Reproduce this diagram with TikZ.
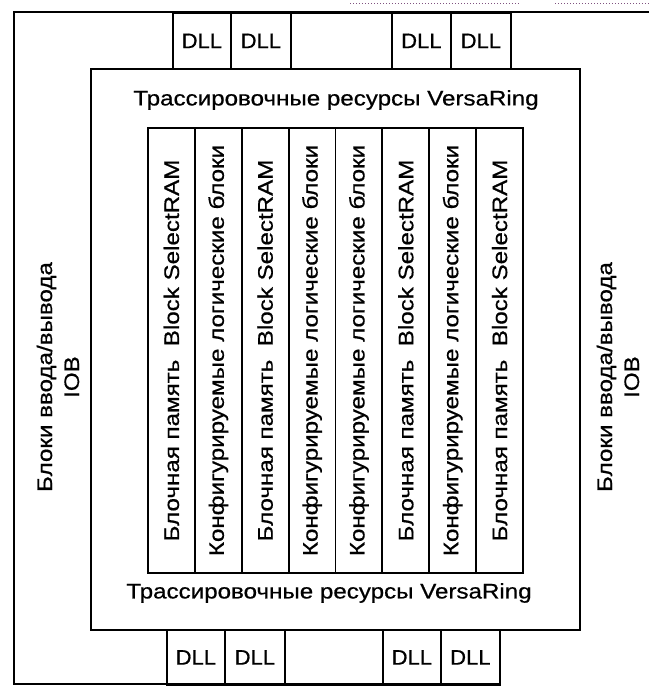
\documentclass[tikz,border=0pt]{standalone}
\usepackage{fontspec}
\setmainfont{Liberation Sans}
\newfontfamily\scanfont{Liberation Sans}[FakeBold=0.6]
\newcommand{\stx}[1]{\scalebox{1.15}[1]{#1}}
\newcommand{\bram}{\stx{Блочная память\ \ Block SelectRAM}}
\newcommand{\clb}{\stx{Конфигурируемые логические блоки}}
\begin{document}
\begin{tikzpicture}[x=1pt,y=-1pt,
  ln/.style={line width=1.8pt},
  cell/.style={draw, ln, inner sep=0pt, anchor=north west, minimum height=#1,
               font=\scanfont\fontsize{21}{25}\selectfont},
  lbl/.style={font=\scanfont\fontsize{21}{27}\selectfont, inner sep=0pt, align=center},
  col/.style={draw, ln, inner sep=0pt, rotate=90, minimum width=445pt,
              minimum height=46.875pt, font=\scanfont\fontsize{21}{25}\selectfont},
  side/.style={lbl, rotate=90},
  art/.style={dotted, line width=1pt, violet!35!gray}
]
\useasboundingbox (0,0) rectangle (649,686);
% scan artefacts at the very top
\draw[art] (350,3) -- (520,3);
\draw[art] (555,3) -- (649,3);
% outer frame (open to the right)
\coordinate (oTR) at (649,12);
\coordinate (oTL) at (14,12);
\coordinate (oBL) at (14,684);
\coordinate (oBR) at (500,684);
\draw[ln] (oTR) -- (oTL) -- (oBL) -- (oBR);
% top DLL row
\node[cell=56pt, minimum width=58pt]  (dllT1) at (172,12) {\scalebox{1.05}[1]{DLL}};
\node[cell=56pt, minimum width=60pt]  (dllT2) at (230,12) {\scalebox{1.05}[1]{DLL}};
\node[cell=56pt, minimum width=101pt] (gapT)  at (290,12) {};
\node[cell=56pt, minimum width=59pt]  (dllT3) at (391,12) {\scalebox{1.05}[1]{DLL}};
\node[cell=56pt, minimum width=60pt]  (dllT4) at (450,12) {\scalebox{1.05}[1]{DLL}};
% routing ring
\node[cell=561pt, minimum width=489pt] (ring) at (90,68) {};
% bottom DLL row
\node[cell=55pt, minimum width=58pt] (dllB1) at (166,629) {\scalebox{1.05}[1]{DLL}};
\node[cell=55pt, minimum width=60pt] (dllB2) at (224,629) {\scalebox{1.05}[1]{DLL}};
\node[cell=55pt, minimum width=98pt] (gapB)  at (284,629) {};
\node[cell=55pt, minimum width=58pt] (dllB3) at (382,629) {\scalebox{1.05}[1]{DLL}};
\node[cell=55pt, minimum width=59pt] (dllB4) at (440,629) {\scalebox{1.05}[1]{DLL}};
% ring labels
\node[lbl] (ringT) at (336,100) {\stx{Трассировочные ресурсы VersaRing}};
\node[lbl] (ringB) at (329,593) {\stx{Трассировочные ресурсы VersaRing}};
% columns
\node[col] (c1) at (171.44,350.5) {\bram};
\node[col] (c2) at (218.31,350.5) {\clb};
\node[col] (c3) at (265.19,350.5) {\bram};
\node[col] (c4) at (312.06,350.5) {\clb};
\node[col] (c5) at (358.94,350.5) {\clb};
\node[col] (c6) at (405.81,350.5) {\bram};
\node[col] (c7) at (452.69,350.5) {\clb};
\node[col] (c8) at (499.56,350.5) {\bram};
% IOB labels
\node[side] (iobL) at (58,377) {\stx{Блоки ввода/вывода}\\\stx{IOB}};
\node[side] (iobR) at (618,377) {\stx{Блоки ввода/вывода}\\\stx{IOB}};
\end{tikzpicture}
\end{document}
